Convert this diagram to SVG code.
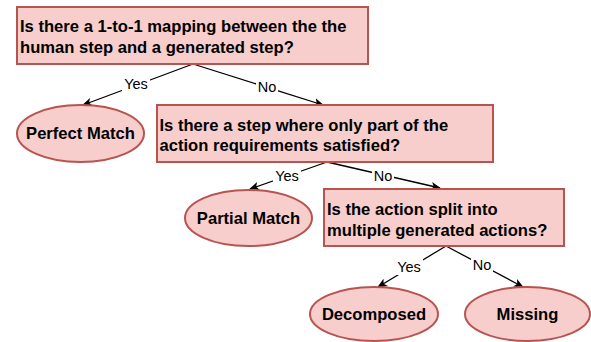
<svg xmlns="http://www.w3.org/2000/svg" width="591" height="342" viewBox="0 0 591 342">
<style>
.box{fill:#f8cecc;stroke:#b85450;stroke-width:2}
.t{font-family:"Liberation Sans",Arial,sans-serif;font-size:16.6px;font-weight:bold;fill:#000}
.c{text-anchor:middle}
.edge{stroke:#000;stroke-width:1.3;fill:none;marker-end:url(#arr)}
.lbg{fill:#fff}
.lbl{font-family:"Liberation Sans",Arial,sans-serif;font-size:14.5px;fill:#000;text-anchor:middle}
</style>
<defs>
<marker id="arr" viewBox="0 0 10 10" refX="9" refY="5" markerWidth="10" markerHeight="10" markerUnits="userSpaceOnUse" orient="auto">
<path d="M0,0.8 L10,5 L0,9.2 L2.5,5 Z" fill="#000"/>
</marker>
</defs>
<rect width="591" height="342" fill="#fff"/>
<g id="connectors">
<line class="edge" x1="193" y1="64" x2="83" y2="105"/>
<line class="edge" x1="193" y1="64" x2="323" y2="105"/>
<line class="edge" x1="327" y1="162" x2="250" y2="189"/>
<line class="edge" x1="327" y1="162" x2="440" y2="188"/>
<line class="edge" x1="446" y1="246" x2="378" y2="287"/>
<line class="edge" x1="446" y1="246" x2="523" y2="287"/>
<rect class="lbg" x="122" y="76" width="28" height="16"/>
<text class="lbl" x="136" y="89">Yes</text>
<rect class="lbg" x="256" y="79" width="22" height="16"/>
<text class="lbl" x="267" y="92">No</text>
<rect class="lbg" x="273" y="168" width="28" height="16"/>
<text class="lbl" x="287" y="181">Yes</text>
<rect class="lbg" x="372" y="168" width="22" height="16"/>
<text class="lbl" x="383" y="181">No</text>
<rect class="lbg" x="395" y="259" width="28" height="16"/>
<text class="lbl" x="409" y="272">Yes</text>
<rect class="lbg" x="471" y="257" width="22" height="16"/>
<text class="lbl" x="482" y="270">No</text>
</g>
<g id="q1">
<rect class="box" x="17" y="7" width="351" height="57"/>
<text class="t" x="20" y="32.3">Is there a 1-to-1 mapping between the the</text>
<text class="t" x="20" y="52.8">human step and a generated step?</text>
</g>
<g id="perfect">
<ellipse class="box" cx="80.5" cy="133.5" rx="63.5" ry="28.5"/>
<text class="t c" x="80.5" y="139.2">Perfect Match</text>
</g>
<g id="q2">
<rect class="box" x="157" y="105" width="336" height="57"/>
<text class="t" x="159.5" y="130.6">Is there a step where only part of the</text>
<text class="t" x="159.5" y="151">action requirements satisfied?</text>
</g>
<g id="partial">
<ellipse class="box" cx="248.5" cy="218" rx="63.5" ry="28"/>
<text class="t c" x="248.5" y="223.7">Partial Match</text>
</g>
<g id="q3">
<rect class="box" x="324" y="189" width="240" height="57"/>
<text class="t" x="327" y="215">Is the action split into</text>
<text class="t" x="327" y="235.5">multiple generated actions?</text>
</g>
<g id="decomposed">
<ellipse class="box" cx="374" cy="314" rx="64" ry="27"/>
<text class="t c" x="374" y="319.7">Decomposed</text>
</g>
<g id="missing">
<ellipse class="box" cx="527.5" cy="314" rx="62.5" ry="27"/>
<text class="t c" x="527.5" y="319.7">Missing</text>
</g>
</svg>
